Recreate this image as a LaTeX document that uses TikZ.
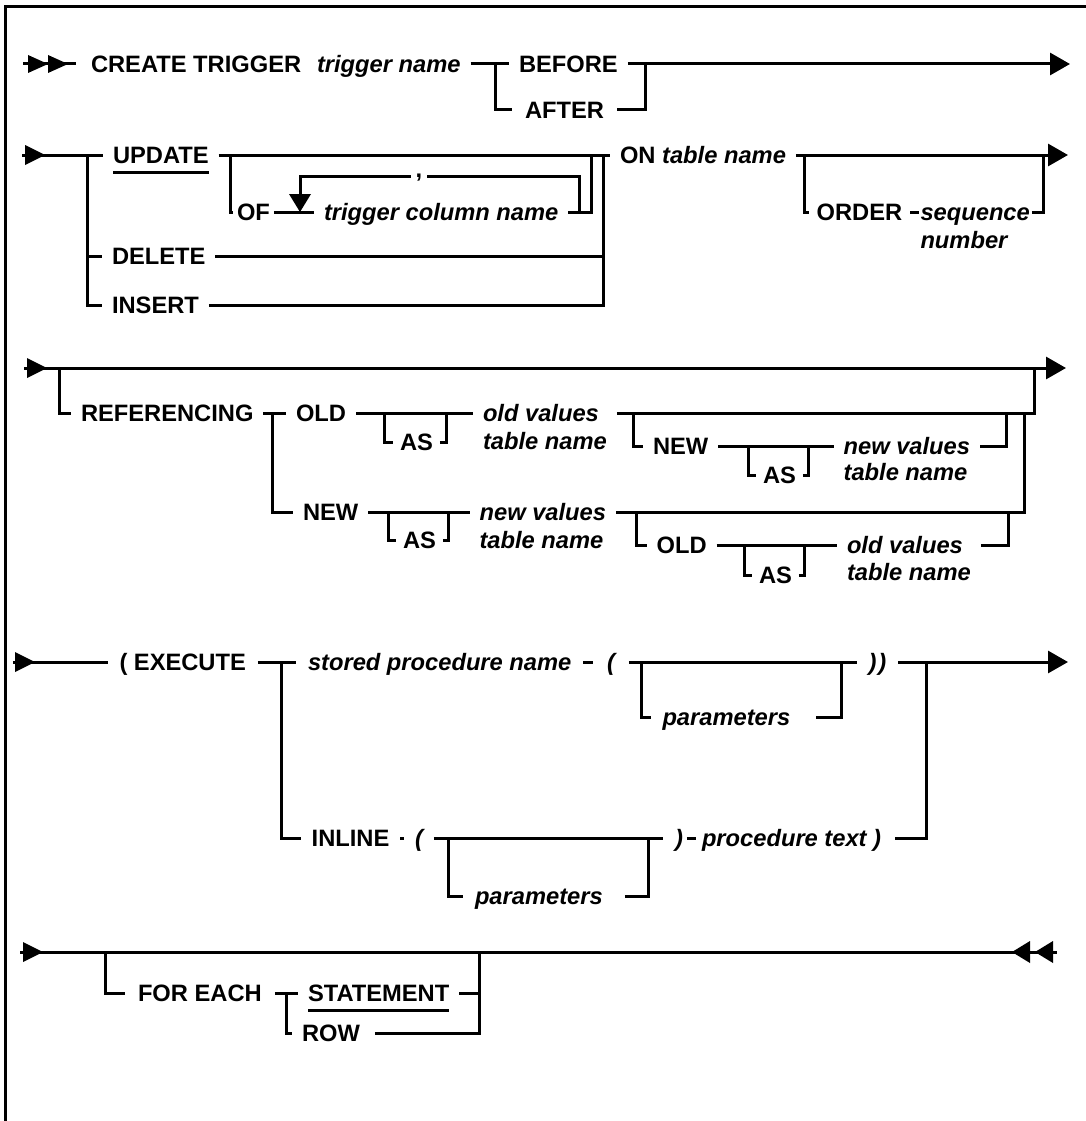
\documentclass[tikz,border=0pt]{standalone}
\usepackage{fontspec}
\setmainfont{Liberation Sans}
\usetikzlibrary{arrows.meta}
\newcommand\fsz{\fontsize{23.7pt}{28pt}\selectfont}
\begin{document}
\begin{tikzpicture}[x=1pt,y=-1pt,
  ln/.style={line width=3pt, line join=miter},
  ul/.style={line width=2.4pt, shorten <=10pt, shorten >=10pt},
  kw/.style={font=\fsz\bfseries, anchor=west, inner sep=0pt, outer xsep=10pt, outer ysep=0pt, text height=17pt, text depth=0pt},
  idt/.style={kw, font=\fsz\bfseries\itshape},
  endarr/.style={-{Triangle[length=20pt,width=22pt]}},
  tri/.pic={\fill (-20,-10) -- (0,0) -- (-20,10) -- cycle;},
  trs/.pic={\fill (-20,-9) -- (0,0) -- (-20,9) -- cycle;},
  trl/.pic={\fill (18,-11) -- (0,0) -- (18,11) -- cycle;},
  trd/.pic={\fill (-11,-18) -- (0,0) -- (11,-18) -- cycle;},
]
\useasboundingbox (0,0) rectangle (1086,1121);
% frame
\coordinate (fb) at (5,1121); \coordinate (fc) at (5,7); \coordinate (fr) at (1086,7);
\draw[ln] (fb) -- (fc) -- (fr);

% ---------- row 1
\coordinate (s1) at (23,64); \coordinate (s1e) at (76,64);
\draw[ln] (s1) -- (s1e);
\pic at (48,64) {trs}; \pic at (68,64) {trs};
\node[kw] (ct) at (81,64) {CREATE TRIGGER};
\node[idt] (tn) at (307,64) {trigger name};
\node[kw] (bef) at (509,64) {BEFORE};
\node[kw, outer xsep=13pt] (aft) at (512,110) {AFTER};
\coordinate (j1) at (495,64); \coordinate (j2) at (645,64); \coordinate (e1) at (1070,64);
\draw[ln] (tn.east) -- (bef.west);
\draw[ln] (j1) |- (aft.west);
\draw[ln] (aft.east) -| (j2);
\draw[ln,endarr] (bef.east) -- (e1);

% ---------- row 2
\coordinate (s2) at (22,155); \pic at (45,155) {tri};
\node[kw] (upd) at (103,155) {UPDATE};
\draw[ul] ([yshift=-9pt]upd.south west) -- ([yshift=-9pt]upd.south east);
\node[kw] (del) at (102,256) {DELETE};
\node[kw] (ins) at (102,305) {INSERT};
\coordinate (j3) at (87,155);
\draw[ln] (s2) -- (upd.west);
\draw[ln] (j3) |- (del.west);
\draw[ln] (j3) |- (ins.west);
\node[kw] (on) at (610,155) {ON \textit{table name}};
\draw[ln] (upd.east) -- (on.west);
\coordinate (j4) at (230,155);
\node[kw, outer xsep=4pt] (of) at (233,212) {OF};
\draw[ln] (j4) |- (of.west);
\node[idt] (col) at (314,212) {trigger column name};
\draw[ln] (of.east) -- (col.west);
\pic at (300,212) {trd};
\coordinate (lt) at (300,196);
\coordinate (lr) at (579,212);
\node[font=\fsz\bfseries, inner sep=0pt, outer xsep=5pt, text height=2pt, text depth=0pt, anchor=base] (cm) at (419,177) {,};
\draw[ln] (lr) |- (cm.east);
\draw[ln] (cm.west) -| (lt);
\coordinate (j5) at (591.5,155);
\draw[ln] (col.east) -| (j5);
\coordinate (j6) at (603.6,155);
\draw[ln] (del.east) -| (j6);
\draw[ln] (ins.east) -| (j6);
\coordinate (e2) at (1068,155);
\draw[ln,endarr] (on.east) -- (e2);
\coordinate (j7) at (804.5,155);
\node[kw, outer xsep=8pt] (ord) at (808.6,212) {ORDER};
\draw[ln] (j7) |- (ord.west);
\node[idt, outer xsep=2pt] (seq) at (918.5,212) {sequence};
\node[idt, outer xsep=2pt] (num) at (918.5,240) {number};
\draw[ln] (ord.east) -- (seq.west);
\coordinate (j8) at (1043.4,155);
\draw[ln] (seq.east) -| (j8);

% ---------- row 3
\coordinate (s3) at (24,368); \pic at (47,368) {tri}; \coordinate (e3) at (1066,368);
\draw[ln,endarr] (s3) -- (e3);
\coordinate (j9) at (59,368);
\node[kw] (ref) at (71,413) {REFERENCING};
\draw[ln] (j9) |- (ref.west);
\node[kw] (old1) at (286,413) {OLD};
\node[kw] (new1) at (293,512) {NEW};
\coordinate (j10) at (272,413);
\draw[ln] (ref.east) -- (old1.west);
\draw[ln] (j10) |- (new1.west);
\node[idt] (ov1) at (473,413) {old values};
\node[idt] (ov1b) at (473,441) {table name};
\draw[ln] (old1.east) -- (ov1.west);
\coordinate (j11) at (384.4,413);
\node[kw, outer xsep=7pt] (as1) at (393,442) {AS};
\coordinate (j12) at (446.7,413);
\draw[ln] (j11) |- (as1.west);
\draw[ln] (as1.east) -| (j12);
\coordinate (j13) at (1034.7,368);
\draw[ln] (ov1 -| ov1b.east) -| (j13);
\coordinate (j14) at (633,413);
\node[kw] (new2) at (643,446) {NEW};
\draw[ln] (j14) |- (new2.west);
\node[idt] (nv2) at (833.6,446) {new values};
\node[idt] (nv2b) at (833.6,472) {table name};
\draw[ln] (new2.east) -- (nv2.west);
\coordinate (j15) at (748,446);
\node[kw, outer xsep=7pt] (as2) at (756,475) {AS};
\coordinate (j16) at (808,446);
\draw[ln] (j15) |- (as2.west);
\draw[ln] (as2.east) -| (j16);
\coordinate (j17) at (1006,413);
\draw[ln] (nv2.east) -| (j17);
\node[idt] (nv1) at (469.6,512) {new values};
\node[idt] (nv1b) at (469.6,540) {table name};
\draw[ln] (new1.east) -- (nv1.west);
\coordinate (j18) at (388,512);
\node[kw, outer xsep=7pt] (as3) at (396,540) {AS};
\coordinate (j19) at (448.5,512);
\draw[ln] (j18) |- (as3.west);
\draw[ln] (as3.east) -| (j19);
\coordinate (j20) at (1024,413);
\draw[ln] (nv1.east) -| (j20);
\coordinate (j21) at (636,512);
\node[kw] (old2) at (646.6,545) {OLD};
\draw[ln] (j21) |- (old2.west);
\node[idt] (ov2) at (837,545) {old values};
\node[idt] (ov2b) at (837,572) {table name};
\draw[ln] (old2.east) -- (ov2.west);
\coordinate (j22) at (744,545);
\node[kw, outer xsep=7pt] (as4) at (752,575) {AS};
\coordinate (j23) at (804.5,545);
\draw[ln] (j22) |- (as4.west);
\draw[ln] (as4.east) -| (j23);
\coordinate (j24) at (1008.8,512);
\draw[ln] (ov2 -| ov2b.east) -| (j24);

% ---------- row 4
\coordinate (s4) at (13,662); \pic at (35,662) {tri};
\node[kw, outer xsep=12pt] (ex) at (107.5,662) {( EXECUTE};
\draw[ln] (s4) -- (ex.west);
\node[idt, outer xsep=12pt] (sp) at (296,662) {stored procedure name};
\draw[ln] (ex.east) -- (sp.west);
\coordinate (j25) at (281,662);
\node[kw, outer xsep=11pt] (inl) at (300.7,838) {INLINE};
\draw[ln] (j25) |- (inl.west);
\node[idt, outer xsep=14pt] (p1) at (593,662) {(};
\draw[ln] (sp.east) -- (p1.west);
\node[idt, outer xsep=12pt] (pp) at (856.5,662) {)\kern2pt)};
\draw[ln] (p1.east) -- (pp.west);
\coordinate (j26) at (641.7,662);
\node[idt, outer xsep=12pt] (par1) at (650.5,717) {parameters};
\draw[ln] (j26) |- (par1.west);
\coordinate (j27) at (841.5,662);
\draw[ln, shorten <=14pt] (par1.east) -| (j27);
\coordinate (e4) at (1068,662);
\draw[ln,endarr] (pp.east) -- (e4);
\coordinate (j28) at (926.7,662);
\node[idt, outer xsep=11pt] (p2) at (404,838) {(};
\draw[ln] (inl.east) -- (p2.west);
\node[idt, outer xsep=4pt] (cp) at (671,838) {)};
\draw[ln, shorten >=8pt] (p2.east) -- (cp.west);
\node[idt, outer xsep=6pt] (pt) at (696,838) {procedure text )};
\draw[ln] (cp.east) -- (pt.west);
\draw[ln, shorten <=8pt] (pt.east) -| (j28);
\coordinate (j29) at (448.3,838);
\node[idt, outer xsep=12pt] (par2) at (463,896) {parameters};
\draw[ln] (j29) |- (par2.west);
\coordinate (j30) at (648.3,838);
\draw[ln, shorten <=10pt] (par2.east) -| (j30);

% ---------- row 5
\coordinate (s5) at (20,952); \pic at (43,952) {tri};
\coordinate (e5) at (1057,952);
\draw[ln] (s5) -- (e5);
\pic at (1012,952) {trl}; \pic at (1035,952) {trl};
\coordinate (j31) at (105,952);
\node[kw, outer xsep=13pt] (fe) at (125,993) {FOR EACH};
\draw[ln] (j31) |- (fe.west);
\node[kw] (st) at (298,993) {STATEMENT};
\draw[ul] ([yshift=-9pt]st.south west) -- ([yshift=-9pt]st.south east);
\draw[ln] (fe.east) -- (st.west);
\coordinate (j32) at (286,993);
\node[kw] (row) at (292,1033) {ROW};
\draw[ln] (j32) |- (row.west);
\coordinate (j33) at (479,952);
\draw[ln] (st.east) -| (j33);
\draw[ln, shorten <=5pt] (row.east) -| (j33);
\end{tikzpicture}
\end{document}
